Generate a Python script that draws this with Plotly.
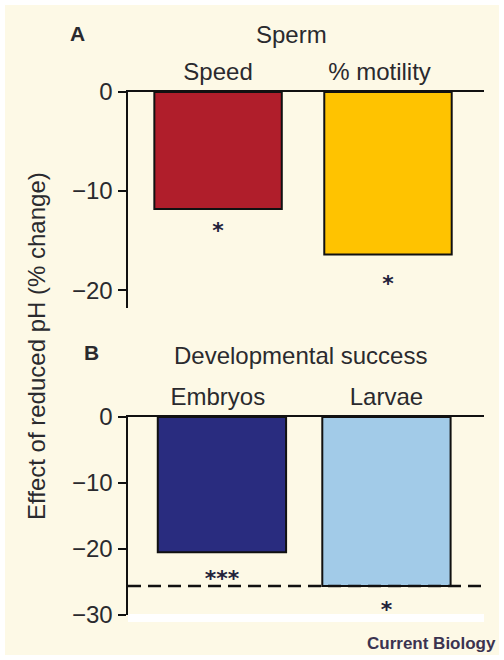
import plotly.graph_objects as go

# ---------------- data ----------------
sperm_categories = ["Speed", "% motility"]
sperm_values = [-11.8, -16.4]
sperm_colors = ["#B01E2B", "#FFC300"]
sperm_sig = ["*", "*"]
sperm_sig_y = [-14.2, -19.5]

dev_categories = ["Embryos", "Larvae"]
dev_values = [-20.5, -25.6]
dev_colors = ["#292C7F", "#A2CBE8"]
dev_sig = ["***", "*"]
dev_sig_y = [-24.7, -29.5]
dev_reference = -25.6

ticks_a = [0, -10, -20]
ticks_b = [0, -10, -20, -30]

W, H = 504, 660
FONT = "Liberation Sans, Arial, sans-serif"
STAR_FONT = "DejaVu Sans, sans-serif"
TXT = "#2a2a2e"


def px(x):
    return x / W


def py(y):
    return 1 - y / H


fig = go.Figure()

# Panel A bars
fig.add_trace(go.Bar(
    x=[0, 1], y=sperm_values, width=0.75,
    marker=dict(color=sperm_colors, line=dict(color="#111", width=2)),
    xaxis="x", yaxis="y", showlegend=False, hoverinfo="skip"))
fig.add_trace(go.Scatter(
    x=[0, 1], y=sperm_sig_y, mode="text", text=sperm_sig,
    textfont=dict(family=STAR_FONT, size=22, color="#22223a", weight="bold"),
    xaxis="x", yaxis="y", showlegend=False, hoverinfo="skip"))

# Panel B bars
fig.add_trace(go.Bar(
    x=[0, 1], y=dev_values, width=0.78,
    marker=dict(color=dev_colors, line=dict(color="#111", width=2)),
    xaxis="x2", yaxis="y2", showlegend=False, hoverinfo="skip"))
fig.add_trace(go.Scatter(
    x=[0, 1], y=dev_sig_y, mode="text", text=dev_sig,
    textfont=dict(family=STAR_FONT, size=22, color="#22223a", weight="bold"),
    xaxis="x2", yaxis="y2", showlegend=False, hoverinfo="skip"))

xdom = [px(128), px(484)]
common_x = dict(
    side="top", showline=True, linecolor="#111", linewidth=2.5,
    ticks="", showgrid=False, zeroline=False, fixedrange=True,
    tickfont=dict(family=FONT, size=24, color=TXT), tickmode="array",
    automargin=False,
)
common_y = dict(
    showline=True, linecolor="#111", linewidth=2.5,
    ticks="outside", ticklen=8, tickwidth=2.5, tickcolor="#111",
    showgrid=False, zeroline=False, fixedrange=True,
    tickfont=dict(family=FONT, size=24, color=TXT), tickmode="array",
    automargin=False,
)

fig.update_layout(
    width=W, height=H, autosize=False,
    margin=dict(l=0, r=0, t=0, b=0, pad=0, autoexpand=False),
    paper_bgcolor="white", plot_bgcolor="white",
    xaxis=dict(common_x, domain=xdom, range=[-0.53, 1.565],
               tickvals=[0, 0.95], ticktext=sperm_categories, anchor="y"),
    yaxis=dict(common_y, domain=[py(308), py(92)], range=[-21.8, 0],
               tickvals=ticks_a, anchor="x"),
    xaxis2=dict(common_x, domain=xdom, range=[-0.571, 1.593],
                tickvals=[-0.025, 1], ticktext=dev_categories, anchor="y2"),
    yaxis2=dict(common_y, domain=[py(615), py(417)], range=[-30, 0],
                tickvals=ticks_b, anchor="x2"),
    bargap=0,
)

shapes = [
    # cream card
    dict(type="rect", xref="paper", yref="paper", layer="below",
         x0=px(5), x1=px(499), y0=py(655), y1=py(5),
         fillcolor="#FDF9E6", line=dict(width=0)),
    # white extension below panel B
    dict(type="rect", xref="paper", yref="paper", layer="below",
         x0=px(128), x1=px(484), y0=py(622), y1=py(614),
         fillcolor="white", line=dict(width=0)),
    # dashed reference line
    dict(type="line", xref="x2 domain", yref="y2", x0=0, x1=1,
         y0=dev_reference, y1=dev_reference, layer="above",
         line=dict(color="#111", width=2.5, dash="13px,7px")),
]
fig.update_layout(shapes=shapes)

ann = [
    dict(text="<b>A</b>", x=px(77), y=py(33), size=21),
    dict(text="Sperm", x=px(291), y=py(35), size=24),
    dict(text="<b>B</b>", x=px(91), y=py(352), size=21),
    dict(text="Developmental success", x=px(300), y=py(355), size=24),
]
annotations = []
for a in ann:
    annotations.append(dict(
        text=a["text"], x=a["x"], y=a["y"], xref="paper", yref="paper",
        xanchor="center", yanchor="middle", showarrow=False,
        font=dict(family=FONT, size=a["size"], color=TXT)))
annotations.append(dict(
    text="Effect of reduced pH (% change)", x=px(36), y=py(346),
    xref="paper", yref="paper", textangle=-90, showarrow=False,
    xanchor="center", yanchor="middle",
    font=dict(family=FONT, size=24, color=TXT)))
annotations.append(dict(
    text="<b>Current Biology</b>", x=px(498), y=py(643), xref="paper",
    yref="paper", xanchor="right", yanchor="middle", showarrow=False,
    font=dict(family=FONT, size=17, color="#3b3350")))
fig.update_layout(annotations=annotations)

post = """
document.documentElement.style.margin='0';
document.body.style.margin='0';
document.body.style.overflow='hidden';
var gd=document.getElementById('{plot_id}');
gd.style.position='absolute';gd.style.left='0px';gd.style.top='0px';
"""
fig.write_html("out.html", post_script=post,
               config={"displayModeBar": False, "staticPlot": True})
